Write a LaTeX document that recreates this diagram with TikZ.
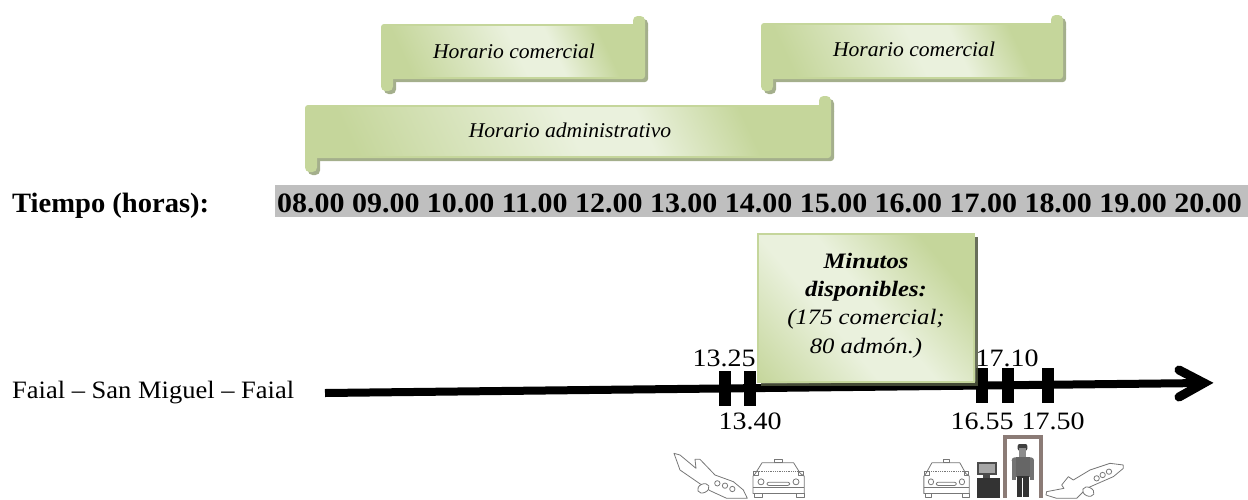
\documentclass[tikz,border=0pt]{standalone}
\usepackage{fontspec}
\setmainfont[FakeStretch=1.12]{Liberation Serif}
\newfontfamily\bandfont[FakeStretch=1.07]{Liberation Serif}
\newfontfamily\tiempofont[FakeStretch=1.02]{Liberation Serif}
\newfontfamily\scrollfont[FakeStretch=1.03]{Liberation Serif}
\newfontfamily\faialfont[FakeStretch=1.06]{Liberation Serif}
\definecolor{olive}{HTML}{C5D69B}
\definecolor{pale}{HTML}{EAF1DD}
\definecolor{shadowc}{HTML}{A4AF8C}
\definecolor{bandc}{HTML}{BFBFBF}
\definecolor{iconc}{HTML}{777777}
\definecolor{framec}{HTML}{8B7B76}
\pgfdeclarehorizontalshading{scrollshade}{100bp}{color(0bp)=(olive); color(22bp)=(olive); color(50bp)=(pale); color(59bp)=(pale); color(72bp)=(olive); color(100bp)=(olive)}
\pgfdeclarehorizontalshading{boxshade}{100bp}{color(0bp)=(olive); color(14bp)=(olive); color(40bp)=(pale); color(52bp)=(pale); color(74bp)=(olive); color(100bp)=(olive)}
\tikzset{
  txt/.style={inner sep=0pt,font=\fontsize{#1}{#1}\selectfont},
  scrolltxt/.style={inner sep=0pt,font=\scrollfont\fontsize{21}{21}\selectfont\itshape},
  stamp/.style={line width=12pt,draw=black},
  iconline/.style={draw=iconc,line width=.8pt,line join=round},
}
% x0,y0,x1,y1,tab top,tab bottom
\newcommand\scrollshape[6]{%
  \begin{scope}[shift={(3,3)}]
    \fill[shadowc,rounded corners=3pt] (#1,#2) rectangle (#3,#4);
    \fill[shadowc,rounded corners=4.5pt] (#3-12,#5) rectangle (#3,#2+8);
    \fill[shadowc,rounded corners=4.5pt] (#1,#4-8) rectangle (#1+12,#6);
  \end{scope}
  \fill[olive,rounded corners=3pt] (#1,#2) rectangle (#3,#4);
  \fill[olive,rounded corners=4.5pt] (#3-12,#5) rectangle (#3,#2+8);
  \fill[olive,rounded corners=4.5pt] (#1,#4-8) rectangle (#1+12,#6);
  \shade[shading=scrollshade,shading angle=25] (#1+10,#2+2) rectangle (#3-2,#4-3);
}
\newcommand\carshape{%
  \draw[iconline] (30,10) -- (125,10) -- (145,42) -- (157,50) -- (157,102) -- (3,102) -- (3,50) -- (10,42) -- cycle;
  \draw[iconline] (68,0) rectangle (90,10);
  \draw[iconline] (5,35) rectangle (20,47);
  \draw[iconline] (140,35) rectangle (155,47);
  \draw[iconline] (7,102) rectangle (30,115);
  \draw[iconline] (133,102) rectangle (157,115);
  \draw[iconline] (27,67) circle (9);
  \draw[iconline] (132,67) circle (9);
  \draw[iconline,rounded corners=2pt] (45,68) rectangle (113,78);
  \draw[iconline,densely dotted] (15,36) -- (145,36);
  \draw[iconline] (3,85) -- (157,85);
}
\begin{document}
\begin{tikzpicture}[x=1pt,y=-1pt]
\useasboundingbox (0,0) rectangle (1248,499);
% scrolls
\scrollshape{381}{24}{645}{79}{16}{91}
\scrollshape{761}{23}{1063}{79}{15}{91}
\scrollshape{305}{105}{831}{158}{96}{172}
\node[scrolltxt] (hc1) at (514,51) {Horario comercial};
\node[scrolltxt] (hc2) at (914,49) {Horario comercial};
\node[scrolltxt] (ha) at (570,130) {Horario administrativo};
% time band
\fill[bandc] (275,185) rectangle (1248,216.7);
\node[inner sep=0pt,anchor=base west,font=\tiempofont\fontsize{28}{28}\selectfont\bfseries] (tlabel) at (12,212) {Tiempo (horas):};
\node[inner sep=0pt,anchor=base west,font=\bandfont\fontsize{28}{28}\selectfont\bfseries] (tband) at (277,212) {08.00 09.00 10.00 11.00 12.00 13.00 14.00 15.00 16.00 17.00 18.00 19.00 20.00};
% timeline
\coordinate (lstart) at (325,393);
\coordinate (lend) at (1204,383);
\coordinate (hup) at (1179,370);
\coordinate (hdn) at (1179,397);
\draw[line width=8pt] (lstart) -- (lend);
\draw[line width=9pt,line cap=round,miter limit=10] (hup) -- (lend) -- (hdn);
\coordinate (t1a) at (725,371); \coordinate (t1b) at (725,406);
\coordinate (t2a) at (750,371); \coordinate (t2b) at (750,406);
\coordinate (t3a) at (982,368); \coordinate (t3b) at (982,403);
\coordinate (t4a) at (1008,368); \coordinate (t4b) at (1008,403);
\coordinate (t5a) at (1048,368); \coordinate (t5b) at (1048,403);
\draw[stamp] (t1a) -- (t1b);
\draw[stamp] (t2a) -- (t2b);
\draw[stamp] (t3a) -- (t3b);
\draw[stamp] (t4a) -- (t4b);
\draw[stamp] (t5a) -- (t5b);
% minutes box
\fill[black!60!olive,opacity=.85] (761,237) rectangle (978,386);
\fill[olive] (757,233) rectangle (975,383);
\shade[shading=boxshade,shading angle=40] (759,235) rectangle (973,380);
\node[inner sep=0pt,align=center,font=\fontsize{22}{28.3}\selectfont\itshape] (minutes) at (866,305.5)
  {\textbf{Minutos}\\\textbf{disponibles:}\\(175 comercial;\\80 admón.)};
% labels
\node[inner sep=0pt,anchor=base west,font=\faialfont\fontsize{25}{25}\selectfont] (faial) at (12,398) {Faial – San Miguel – Faial};
\node[txt=25] (a1) at (724,358) {13.25};
\node[txt=25] (a2) at (750,421) {13.40};
\node[txt=25] (a3) at (982,421) {16.55};
\node[txt=25] (a4) at (1007,358) {17.10};
\node[txt=25] (a5) at (1053,421) {17.50};
% plane 1
\begin{scope}[shift={(660,420)},x=.3333pt,y=-.3333pt]
  \draw[iconline] (42,100) -- (60,105) -- (108,145) -- (105,118) -- (120,118) -- (165,165) -- (220,185) -- (250,210) -- (262,235) -- (200,235) -- (150,212) -- (118,190) -- (60,150) -- cycle;
  \draw[iconline,fill=white,rotate around={25:(130,205)}] (130,205) ellipse (18 and 13);
  \draw[iconline] (172,190) circle (8);
  \draw[iconline] (195,197) circle (8);
  \draw[iconline] (217,207) circle (8);
\end{scope}
% car 1
\begin{scope}[shift={(752,459.5)},x=.3333pt,y=-.3333pt]\carshape\end{scope}
% car 2
\begin{scope}[shift={(923,459.5)},x=.295pt,y=-.3333pt]\carshape\end{scope}
% computer, scanner, person
\begin{scope}[shift={(970,430)},x=.3333pt,y=-.3333pt]
  \fill[black!80] (22,145) rectangle (90,205);
  \fill[black!70] (22,97) rectangle (82,135);
  \fill[black!35] (28,103) rectangle (76,128);
  \fill[black!70] (40,135) rectangle (60,145);
  \fill[framec] (98,15) rectangle (218,205);
  \fill[white] (110,27) rectangle (206,205);
  \fill[black!75,rounded corners=2pt] (143,42) rectangle (172,62);
  \fill[black!45] (148,55) rectangle (168,80);
  \fill[black!55,rounded corners=3pt] (125,82) rectangle (192,100);
  \fill[black!55] (125,90) rectangle (137,150);
  \fill[black!55] (180,90) rectangle (192,150);
  \fill[black!60] (137,82) rectangle (180,140);
  \fill[black!80] (140,138) rectangle (177,200);
  \draw[white,line width=1pt] (158,145) -- (158,200);
\end{scope}
% plane 2
\begin{scope}[shift={(910,420)},x=.3333pt,y=-.3333pt]
  \draw[iconline] (640,135) -- (600,130) -- (540,150) -- (490,180) -- (475,170) -- (455,195) -- (462,205) -- (410,215) -- (408,225) -- (440,235) -- (500,235) -- (530,205) -- (610,170) -- (640,145) -- cycle;
  \draw[iconline,fill=white,rotate around={-25:(535,215)}] (535,215) ellipse (18 and 13);
  \draw[iconline] (560,175) circle (8);
  \draw[iconline] (578,165) circle (8);
  \draw[iconline] (597,155) circle (8);
\end{scope}
\end{tikzpicture}
\end{document}
